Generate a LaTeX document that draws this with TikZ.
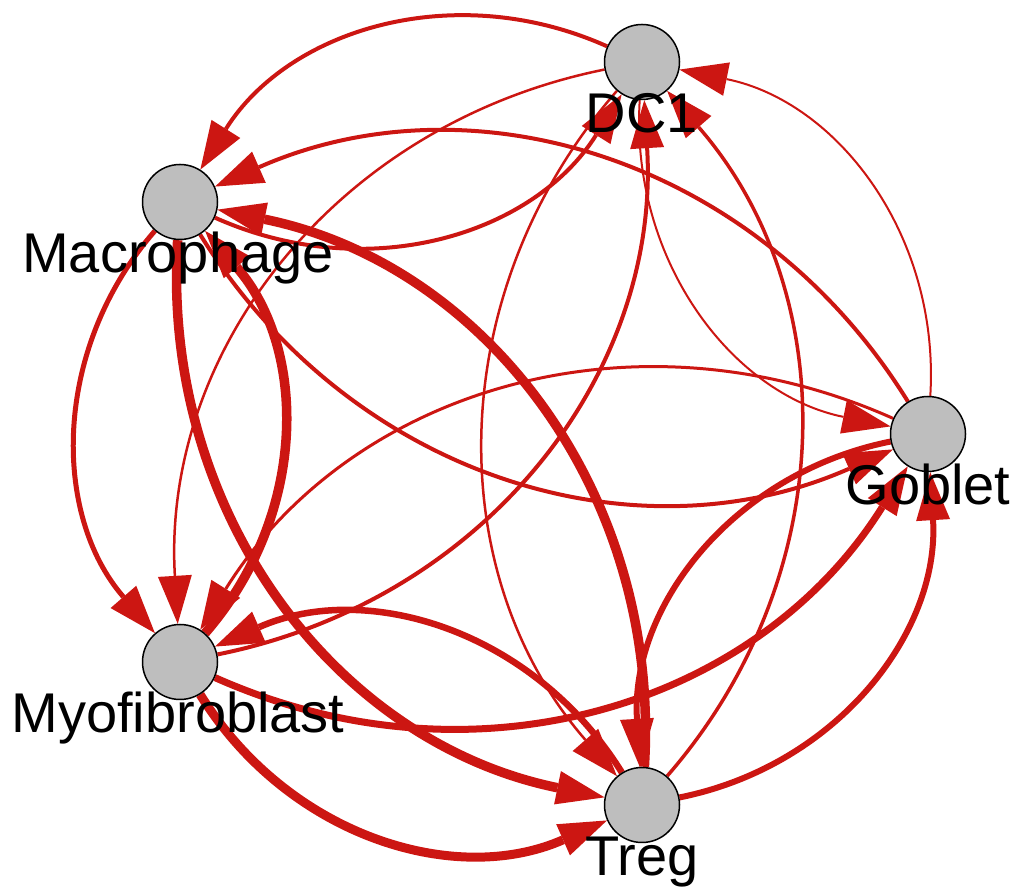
\documentclass[tikz,border=0pt]{standalone}
\usepackage{fontspec}
\setmainfont{Liberation Sans}
\usetikzlibrary{arrows.meta,backgrounds}
\definecolor{edgered}{RGB}{204,22,18}
\definecolor{cellgray}{RGB}{190,190,190}
\tikzset{v/.style={draw,circle,fill=cellgray,line width=1.5pt,minimum size=75pt,inner sep=0pt},
lbl/.style={anchor=base,inner sep=0pt,font=\fontsize{56}{60}\selectfont},
arr/.style={edgered,-{Triangle[length=48pt,width=34pt,line width=0pt]}}}

\begin{document}
\begin{tikzpicture}[x=1pt,y=1pt]
\useasboundingbox(0,0)rectangle(1016,890);
\node[v](dc)at(642,828){};\node[v](mac)at(180,688){};\node[v](gob)at(928,456){};
\node[v](myo)at(180,228){};\node[v](treg)at(642,85){};
\begin{scope}[on background layer]
\foreach\a/\b/\w in{dc/mac/4,mac/dc/4,gob/dc/2,dc/gob/2,gob/mac/4,mac/gob/4,treg/mac/9.5,mac/treg/9.5,mac/myo/5,myo/mac/9.5,
dc/myo/2.5,myo/dc/4,dc/treg/2.5,treg/dc/3.5,myo/gob/7,gob/myo/3,myo/treg/9,treg/myo/6.5,treg/gob/6,gob/treg/6}
\draw[arr,line width=\w pt](\a)to[bend right=41](\b);
\end{scope}
\node[lbl](dcl)at(642,757){DC1};\node[lbl](macl)at(178,617){Macrophage};\node[lbl](gobl)at(928,385){Goblet};
\node[lbl](myol)at(178,157){Myofibroblast};\node[lbl](tregl)at(642,14){Treg};
\end{tikzpicture}
\end{document}
